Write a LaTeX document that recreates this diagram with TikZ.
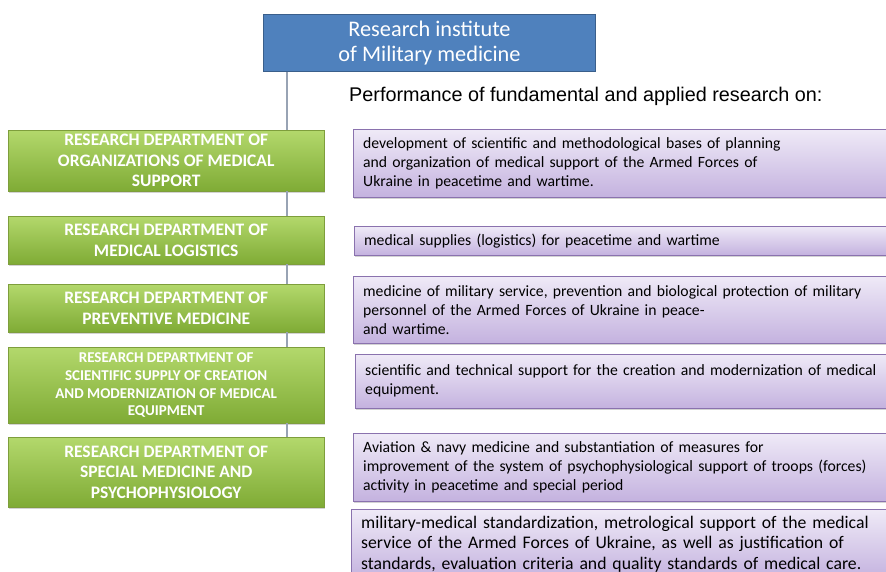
\documentclass[tikz,border=0pt]{standalone}
\usepackage{fontspec}
\setmainfont{Carlito}
\newfontfamily\headfont{Liberation Sans}
\usetikzlibrary{shadows}
\definecolor{instfill}{HTML}{4F81BD}
\definecolor{instdraw}{HTML}{3A5F8B}
\definecolor{depttop}{HTML}{B3D86C}
\definecolor{deptbot}{HTML}{7FAB35}
\definecolor{deptdraw}{HTML}{7E9E3C}
\definecolor{tasktop}{HTML}{EFEAF7}
\definecolor{taskbot}{HTML}{C4B2DF}
\definecolor{taskdraw}{HTML}{8A72AE}
\definecolor{trunkcol}{HTML}{98A3B4}

\begin{document}
\begin{tikzpicture}[x=1pt, y=-1pt,
    inst/.style={draw=instdraw, line width=1pt, fill=instfill, text=white, anchor=north west,
        minimum width=332pt, minimum height=57pt, align=center, inner sep=1pt,
        font=\fontsize{22.3}{25.5}\selectfont},
    dept/.style={draw=deptdraw, top color=depttop, bottom color=deptbot, text=white, anchor=north west,
        minimum width=316pt, align=center, inner sep=1pt,
        drop shadow={shadow xshift=1pt, shadow yshift=-2pt, opacity=0.35},
        font=\bfseries\fontsize{17.5}{20.5}\selectfont},
    task/.style={draw=taskdraw, top color=tasktop, bottom color=taskbot, anchor=north west,
        text width=517pt, inner xsep=10pt, inner ysep=1pt, align=left,
        drop shadow={shadow xshift=1pt, shadow yshift=-2pt, opacity=0.35},
        font=\fontsize{15.7}{19}\selectfont},
    trunk/.style={trunkcol, line width=2pt}]
    \useasboundingbox (0,0) rectangle (886,572);
    \clip (0,0) rectangle (886,572);

    \node[inst] (inst) at (263,14) {Research institute\\of Military medicine};
    \node[font=\headfont\fontsize{19.8}{23}\selectfont, anchor=west, inner sep=0pt] (head) at (349,96)
        {Performance of fundamental and applied research on:};

    \coordinate (trunk) at ([xshift=24pt]inst.south west);
    \node[dept, minimum height=61pt] (org) at (8,130) {RESEARCH DEPARTMENT OF\\ORGANIZATIONS OF MEDICAL\\SUPPORT};
    \node[dept, minimum height=48pt] (log) at (8,216) {RESEARCH DEPARTMENT OF\\MEDICAL LOGISTICS};
    \node[dept, minimum height=48pt] (prev) at (8,284) {RESEARCH DEPARTMENT OF\\PREVENTIVE MEDICINE};
    \node[dept, minimum height=76pt, font=\bfseries\fontsize{15}{17.7}\selectfont] (equip) at (8,347)
        {RESEARCH DEPARTMENT OF\\SCIENTIFIC SUPPLY OF CREATION\\AND MODERNIZATION OF MEDICAL\\EQUIPMENT};
    \node[dept, minimum height=70pt] (spec) at (8,437) {RESEARCH DEPARTMENT OF\\SPECIAL MEDICINE AND\\PSYCHOPHYSIOLOGY};

    \node[task, minimum height=68pt] (t1) at (353,129)
        {development of scientific and methodological bases of planning\\and organization of medical support of the Armed Forces of\\Ukraine in peacetime and wartime.};
    \node[task, minimum height=29pt] (t2) at (354,226) {medical supplies (logistics) for peacetime and wartime};
    \node[task, minimum height=67pt] (t3) at (353,276)
        {medicine of military service, prevention and biological protection of military\\personnel of the Armed Forces of Ukraine in peace-\\and wartime.};
    \node[task, minimum height=54pt] (t4) at (355,354)
        {scientific and technical support for the creation and modernization of medical\\equipment.};
    \node[task, minimum height=68pt] (t5) at (353,433)
        {Aviation \& navy medicine and substantiation of measures for\\improvement of the system of psychophysiological support of troops (forces)\\activity in peacetime and special period};
    \node[task, minimum height=70pt, text width=519pt, font=\fontsize{17.7}{20.5}\selectfont] (t6) at (351,509)
        {military-medical standardization, metrological support of the medical\\service of the Armed Forces of Ukraine, as well as justification of\\standards, evaluation criteria and quality standards of medical care.};

    \draw[trunk] (trunk) -- (trunk |- org.north);
    \draw[trunk] (trunk |- org.south) -- (trunk |- log.north);
    \draw[trunk] (trunk |- log.south) -- (trunk |- prev.north);
    \draw[trunk] (trunk |- prev.south) -- (trunk |- equip.north);
    \draw[trunk] (trunk |- equip.south) -- (trunk |- spec.north);
\end{tikzpicture}
\end{document}
